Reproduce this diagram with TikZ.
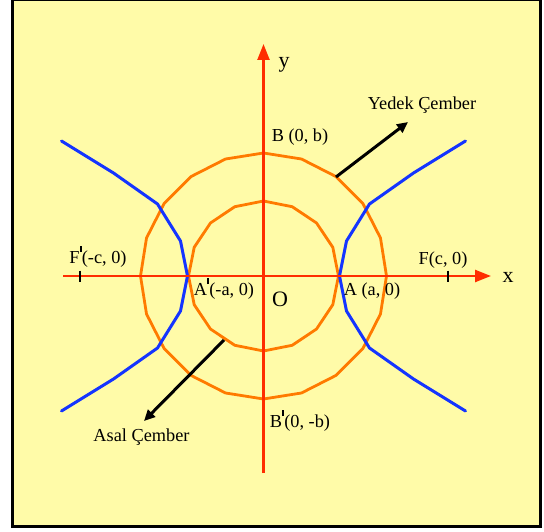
\documentclass[tikz,border=0pt]{standalone}
\usepackage{fontspec}
\setmainfont{Liberation Serif}
\usetikzlibrary{arrows.meta}
\definecolor{bgyel}{RGB}{255,251,168}
\definecolor{axred}{RGB}{255,45,0}
\definecolor{circor}{RGB}{255,122,0}
\definecolor{hypblue}{RGB}{20,52,255}
\newcommand\prm{\raisebox{11pt}{\rule{2.2pt}{6.5pt}}}
\tikzset{
  axisline/.style={draw=axred,line width=2.4pt,-{Triangle[length=16pt,width=12pt]}},
  circline/.style={draw=circor,line width=2.8pt,line join=round},
  hypline/.style={draw=hypblue,line width=3pt,line join=round,line cap=round},
  pointer/.style={draw=black,line width=3pt,-{Triangle[length=11pt,width=10pt]}},
  lbl/.style={font=\fontsize{18.3}{21}\selectfont,inner sep=0pt,anchor=base,text=black},
  biglbl/.style={font=\fontsize{22}{26}\selectfont,inner sep=0pt,anchor=base,text=black},
  tick/.style={draw=black,line width=2pt}
}
\begin{document}
\begin{tikzpicture}[x=1pt,y=-1pt]
\useasboundingbox (0,0) rectangle (544,532);
\fill[white] (0,0) rectangle (544,532);
\draw[fill=bgyel,line width=3pt,draw=black] (12.5,-0.5) rectangle (540,526.5);
% circles
\draw[circline] plot[samples=21,domain=90:450] ({263.5+123*cos(\x)},{276-123*sin(\x)}) -- cycle;
\draw[circline] plot[samples=17,domain=90:450] ({263.5+75*cos(\x)},{276-75*sin(\x)}) -- cycle;
% hyperbola branches
\draw[hypline] (61.5,141) -- (113.5,173) -- (157.5,204) -- (180.5,241) -- (187.5,276) -- (180.5,311) -- (157.5,348) -- (113.5,379) -- (61.5,411);
\draw[hypline] (465.5,141) -- (413.5,173) -- (369.5,204) -- (346.5,241) -- (339.5,276) -- (346.5,311) -- (369.5,348) -- (413.5,379) -- (465.5,411);
% axes
\coordinate (xs) at (63,276);
\coordinate (xe) at (491,276);
\coordinate (ys) at (263.5,473);
\coordinate (ye) at (263.5,44);
\draw[axisline] (xs) -- (xe);
\draw[axisline] (ys) -- (ye);
% focus ticks
\coordinate (fl1) at (80,270.5);
\coordinate (fl2) at (80,281.5);
\coordinate (fr1) at (448,270.5);
\coordinate (fr2) at (448,281.5);
\draw[tick] (fl1) -- (fl2);
\draw[tick] (fr1) -- (fr2);
% labels
\node[biglbl] (ylab) at (284,68) {y};
\node[biglbl] (xlab) at (508,282) {x};
\node[biglbl] (O) at (280,306) {O};
\node[lbl] (Bt) at (300,142) {B (0, b)};
\node[lbl] (Bb) at (300,427) {B\prm(0, -b)};
\node[lbl] (Fr) at (443,265) {F(c, 0)};
\node[lbl] (Fl) at (98,263) {F\prm(-c, 0)};
\node[lbl] (Ar) at (372,295) {A (a, 0)};
\node[lbl] (Al) at (224,295) {A\prm(-a, 0)};
\node[lbl] (yedek) at (422,110) {Yedek Çember};
\node[lbl] (asal) at (141.5,441) {Asal Çember};
% pointer arrows
\coordinate (yds) at (336,177);
\coordinate (ydt) at (408,122);
\coordinate (ass) at (224,340);
\coordinate (ast) at (144,421);
\draw[pointer] (yds) -- (ydt);
\draw[pointer] (ass) -- (ast);
\end{tikzpicture}
\end{document}
